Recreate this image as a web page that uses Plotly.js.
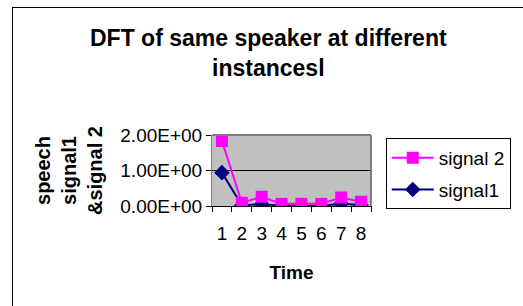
<!DOCTYPE html>
<html>
<head>
<meta charset="utf-8">
<script src="https://cdn.plot.ly/plotly-3.0.1.min.js"></script>
<style>
html,body{margin:0;padding:0;overflow:hidden;background:#fff;}
#chart{width:523px;height:306px;}
#frame{position:absolute;left:12px;top:7px;width:700px;height:500px;border:1px solid #000;pointer-events:none;}
</style>
</head>
<body>
<div id="chart"></div>
<div id="frame"></div>
<script>
const categories = ["1","2","3","4","5","6","7","8"];
const signal1 = [0.94, 0.02, 0.05, 0.01, 0.01, 0.01, 0.06, 0.03];
const signal2 = [1.83, 0.09, 0.26, 0.06, 0.06, 0.06, 0.24, 0.12];
const yTickVals = [0, 1, 2];
const yTickText = ["0.00E+00", "1.00E+00", "2.00E+00"];

const FONT = "Liberation Sans, Arial, sans-serif";

const traces = [
  {
    x: categories, y: signal1, name: "signal1", type: "scatter", mode: "lines+markers",
    legendgroup: "s1", legendrank: 2,
    line: {color: "#000080", width: 2},
    marker: {symbol: "diamond", size: 12, color: "#000080"}
  },
  {
    x: categories, y: signal2, name: "signal 2", type: "scatter", mode: "lines+markers",
    legendgroup: "s2", legendrank: 1,
    line: {color: "#FF00FF", width: 2},
    marker: {symbol: "square", size: 12, color: "#FF00FF"}
  }
];

const layout = {
  width: 523, height: 306,
  margin: {l: 212, r: 146, t: 135, b: 100},
  paper_bgcolor: "#ffffff",
  plot_bgcolor: "#c0c0c0",
  showlegend: true,
  font: {family: FONT, color: "#000", size: 19},
  title: {
    text: "<b>DFT of same speaker at different<br>instancesl</b>",
    font: {family: FONT, size: 23, color: "#000"},
    x: 0.513, xanchor: "center", y: 0.85, yanchor: "middle"
  },
  xaxis: {
    type: "category",
    range: [-0.5, 7.5],
    tickmode: "array", tickvals: categories, ticktext: categories,
    tickangle: 0,
    tickson: "boundaries",
    ticks: "outside", ticklen: 5, tickcolor: "#000",
    ticklabelstandoff: 10,
    showline: true, linecolor: "#000", linewidth: 1,
    showgrid: false, zeroline: false,
    tickfont: {family: FONT, size: 19, color: "#000"},
    title: {text: "<b>Time</b>", font: {family: FONT, size: 19, color: "#000"}, standoff: 22},
    mirror: false
  },
  yaxis: {
    range: [0, 2],
    tickvals: yTickVals, ticktext: yTickText,
    ticks: "outside", ticklen: 5, tickcolor: "#000",
    showline: true, linecolor: "#808080", linewidth: 1, mirror: true,
    showgrid: true, gridcolor: "#000", gridwidth: 1,
    zeroline: false,
    tickfont: {family: FONT, size: 19, color: "#000"},
    title: {text: "<b>speech<br>signal1<br>&signal 2</b>", font: {family: FONT, size: 20, color: "#000"}, standoff: 12}
  },
  legend: {
    x: 1.879, xanchor: "right", y: 0.958, yanchor: "top",
    bgcolor: "#fff", bordercolor: "#000", borderwidth: 1,
    traceorder: "grouped",
    tracegroupgap: 4,
    font: {family: FONT, size: 19, color: "#000"},
    itemwidth: 42
  },
  shapes: [
    {type: "line", xref: "paper", yref: "paper", x0: 1, x1: 1, y0: 0, y1: 1, line: {color: "#808080", width: 2}},
    {type: "line", xref: "paper", yref: "paper", x0: 0, x1: 1, y0: 1, y1: 1, line: {color: "#808080", width: 2}}
  ]
};

Plotly.newPlot("chart", traces, layout, {displayModeBar: false, staticPlot: true});
</script>
</body>
</html>
